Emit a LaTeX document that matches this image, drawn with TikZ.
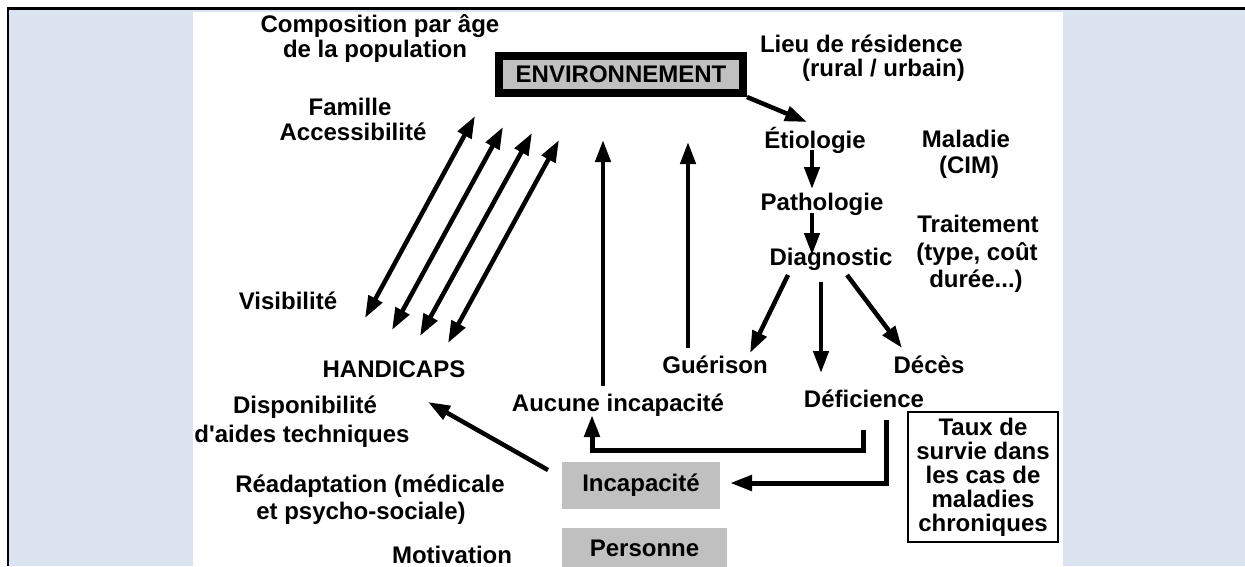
\documentclass[tikz,border=0pt]{standalone}
\usepackage{fontspec}
\setmainfont{Liberation Sans}
\usetikzlibrary{arrows.meta}
\tikzset{every node/.style={font=\fontsize{24}{25}\selectfont\bfseries, inner sep=0pt}}
\definecolor{panelcol}{HTML}{DAE3EF}
\definecolor{greycol}{HTML}{C0C0C0}
\colorlet{framecol}{black}
\colorlet{arrowcol}{black}
\tikzset{
  lbl/.style={anchor=base},
  lblr/.style={anchor=base east},
  flow/.style={line width=4.5pt, draw=arrowcol, -{Triangle[length=22pt,width=15pt]}},
  twoway/.style={flow, {Triangle[length=22pt,width=15pt]}-{Triangle[length=22pt,width=15pt]}},
  greybox/.style={fill=greycol}
}

\begin{document}
\begin{tikzpicture}[x=1pt, y=-1pt]

  \useasboundingbox (0,0) rectangle (1245,566);

  % Page background and frame.
  \fill[white] (0,0) rectangle (1245,566);
  \fill[panelcol] (9,10) rectangle (1245,566);
  \fill[white] (193,12) rectangle (1063,566);
  \draw[line width=3pt, framecol] (7,8.5) -- (1245,8.5);
  \draw[line width=2.5pt, framecol] (8,8) -- (8,566);

  % Environment box.
  \node[draw=framecol, line width=8pt, greybox, minimum width=244pt,
    minimum height=37pt] (env) at (621,74.5) {ENVIRONNEMENT};

  % Labels round the environment.
  \node[lbl] (compo1) at (380,32) {Composition par âge};
  \node[lbl] (compo2) at (375,57) {de la population};
  \node[lbl] (famil1) at (350,115) {Famille};
  \node[lbl] (famil2) at (353,140) {Accessibilité};
  \node[lblr] (lieu1) at (963,52) {Lieu de résidence};
  \node[lblr] (lieu2) at (965,76) {(rural / urbain)};

  % Disease chain.
  \node[lbl] (etio) at (815,148) {Étiologie};
  \node[lbl] (patho) at (822,210) {Pathologie};
  \node[lbl] (diag) at (831,265) {Diagnostic};
  \node[lbl] (mal1) at (966,147) {Maladie};
  \node[lbl] (mal2) at (969,173) {(CIM)};
  \node[lbl] (trait1) at (978,232) {Traitement};
  \node[lbl] (trait2) at (977,260) {(type, coût};
  \node[lbl] (trait3) at (976,287) {durée...)};

  % Outcomes.
  \node[lbl] (guer) at (715,373) {Guérison};
  \node[lbl] (deces) at (929,373) {Décès};
  \node[lbl] (defic) at (864,407) {Déficience};
  \node[lbl] (aucune) at (618,411) {Aucune incapacité};
  \node[lbl] (handi) at (394,377) {HANDICAPS};
  \node[lbl] (visib) at (288,309) {Visibilité};

  % Left column of factors.
  \node[lbl] (dispo1) at (305,413) {Disponibilité};
  \node[lbl] (dispo2) at (302,442) {d\textquotesingle aides techniques};
  \node[lbl] (readapt1) at (370,492) {Réadaptation (médicale};
  \node[lbl] (readapt2) at (361,519) {et psycho-sociale)};
  \node[lbl] (motiv) at (452,563) {Motivation};

  % Grey boxes and survival box.
  \node[greybox, minimum width=158pt, minimum height=47pt] (incap)
    at (641,485.5) {Incapacité};
  \node[greybox, minimum width=165pt, minimum height=40pt] (pers)
    at (644.5,548) {Personne};
  \node[draw=framecol, line width=1.5pt, align=center, minimum width=150pt,
    minimum height=130pt, font=\fontsize{24}{24}\selectfont\bfseries]
    (taux) at (983,477) {Taux de\\survie dans\\les cas de\\maladies\\chroniques};

  % Arrow end points.
  \coordinate (envtip) at (807,122);
  \coordinate (etiobot) at (812,150);
  \coordinate (pathotop) at (812,189);
  \coordinate (pathobot) at (812,213);
  \coordinate (diagtop) at (812,255);
  \coordinate (diagl) at (788,275);
  \coordinate (diagm) at (821,282);
  \coordinate (diagr) at (847,275);
  \coordinate (guertip) at (750,353);
  \coordinate (defictip) at (821,373);
  \coordinate (decestip) at (902,348);
  \coordinate (guerup) at (688,348);
  \coordinate (guertop) at (688,142);
  \coordinate (aucup) at (603,386);
  \coordinate (auctop) at (603,140);
  \coordinate (deficl) at (863,430);
  \coordinate (aucbot) at (592,415);
  \coordinate (deficr) at (886,420);
  \coordinate (incaptip) at (730,483);
  \coordinate (incapout) at (548,470);
  \coordinate (handitip) at (428,402);

  % Environment to disease chain.
  \draw[flow] (env.south east) -- (envtip);
  \draw[flow] (etiobot) -- (pathotop);
  \draw[flow] (pathobot) -- (diagtop);
  \draw[flow] (diagl) -- (guertip);
  \draw[flow] (diagm) -- (defictip);
  \draw[flow] (diagr) -- (decestip);

  % Back to the environment.
  \draw[flow] (guerup) -- (guertop);
  \draw[flow] (aucup) -- (auctop);

  % Handicaps <-> environment.
  \foreach \i/\tx/\ty/\bx/\by in {1/475/116/365/318, 2/503/127/392/330,
                                  3/532/133/420/336, 4/559/140/448/343} {
    \coordinate (hup\i) at (\tx,\ty);
    \coordinate (hdn\i) at (\bx,\by);
    \draw[twoway] (hdn\i) -- (hup\i);
  }

  % Deficiency to no disability / disability.
  \draw[flow, line width=5pt] (deficl) -- ++(0,20) -| (aucbot);
  \draw[flow, line width=5pt] (deficr) |- (incaptip);
  \draw[flow] (incapout) -- (handitip);

\end{tikzpicture}
\end{document}
